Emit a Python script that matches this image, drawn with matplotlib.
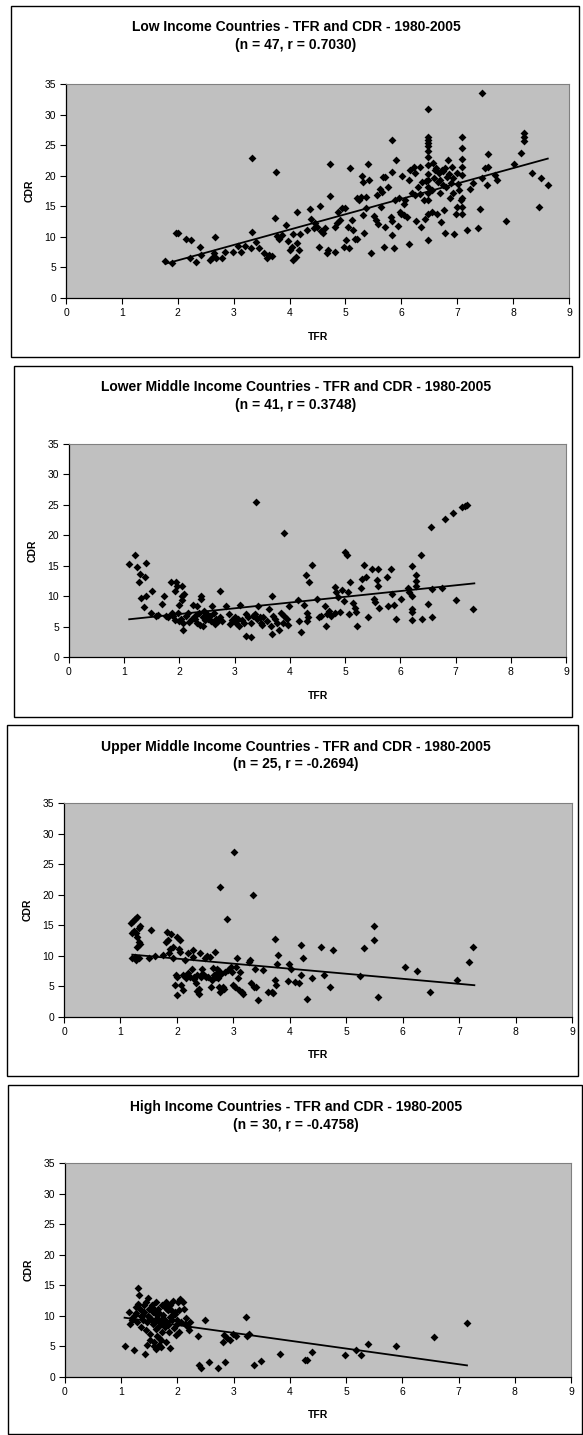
import matplotlib.pyplot as plt
from matplotlib.patches import Rectangle

plt.rcParams['font.family'] = ['Liberation Sans', 'DejaVu Sans']

W, H = 583, 1435

# ---- Low income ----
low_tfr = [1.78, 1.89, 1.96, 2.01, 2.14, 2.23, 2.21, 2.32, 2.39, 2.41, 2.66, 2.58, 2.63, 2.65, 2.68,
           2.80, 2.84, 2.98, 3.08, 3.13, 3.21, 3.31, 3.32, 3.32, 3.40, 3.46, 3.54, 3.60, 3.64, 3.68,
           3.75, 3.74, 3.77, 3.81, 3.87, 3.94, 3.97, 4.01, 4.04, 4.07, 4.06, 4.11, 4.14, 4.13, 4.17,
           4.19, 4.32, 4.36, 4.39, 4.43, 4.46, 4.49, 4.52, 4.54, 4.56, 4.60, 4.64, 4.67, 4.69, 4.72,
           4.72, 4.81, 4.81, 4.84, 4.87, 4.91, 4.94, 4.97, 4.99, 5.01, 5.04, 5.09, 5.07, 5.11, 5.14,
           5.17, 5.21, 5.21, 5.24, 5.27, 5.29, 5.31, 5.31, 5.34, 5.37, 5.37, 5.41, 5.42, 5.46, 5.51,
           5.54, 5.56, 5.59, 5.62, 5.64, 5.66, 5.67, 5.71, 5.69, 5.71, 5.77, 5.81, 5.83, 5.84, 5.84,
           5.84, 5.87, 5.89, 5.91, 5.94, 5.97, 5.99, 6.02, 6.04, 6.07, 6.11, 6.14, 6.14, 6.16, 6.19,
           6.22, 6.24, 6.26, 6.30, 6.34, 6.35, 6.37, 6.41, 6.43,
           6.48, 6.48, 6.48, 6.48, 6.48, 6.48, 6.48, 6.48, 6.48, 6.48, 6.48, 6.48, 6.48, 6.48, 6.48,
           6.54, 6.55, 6.57, 6.62, 6.64, 6.67, 6.69, 6.70, 6.71, 6.74, 6.75, 6.77, 6.78, 6.80, 6.84,
           6.87, 6.89, 6.90, 6.92, 6.95, 6.97, 6.99, 7.00, 7.04, 7.06,
           7.09, 7.09, 7.09, 7.09, 7.09, 7.09, 7.09, 7.09,
           7.17, 7.22, 7.28, 7.37, 7.40, 7.44, 7.44, 7.50, 7.54, 7.55, 7.55, 7.67, 7.71, 7.87, 8.02,
           8.15, 8.19, 8.19, 8.19, 8.34, 8.47, 8.50, 8.62,
           6.25, 6.45, 6.60, 6.66, 6.72, 6.82, 6.86, 6.93, 7.02, 6.05, 5.95, 6.33, 6.58, 6.79]
low_cdr = [6.0, 5.7, 10.7, 10.6, 9.7, 9.5, 6.5, 5.9, 8.4, 7.0, 10.0, 6.2, 6.7, 7.3, 6.6,
           6.6, 7.5, 7.5, 8.5, 7.5, 8.5, 8.1, 22.9, 10.8, 9.1, 8.1, 7.3, 6.5, 7.0, 6.8,
           20.6, 13.1, 10.1, 9.6, 10.3, 11.9, 9.3, 7.9, 8.4, 10.5, 6.2, 6.7, 9.0, 14.0, 7.8,
           10.5, 11.1, 14.5, 13.0, 11.4, 12.2, 11.6, 8.4, 15.1, 10.9, 10.7, 11.4, 7.3, 7.9, 16.7,
           21.9, 7.5, 11.6, 12.2, 14.1, 12.7, 14.7, 8.4, 14.7, 9.5, 11.6, 21.3, 8.1, 12.7, 11.1,
           9.6, 9.6, 16.3, 16.0, 16.5, 20.0, 19.0, 13.6, 10.6, 16.6, 14.7, 21.9, 19.3, 7.4, 13.4,
           12.7, 16.8, 12.1, 17.8, 14.9, 17.3, 19.8, 19.8, 8.4, 11.6, 18.2, 13.3, 25.9, 20.6, 10.3,
           12.6, 8.1, 16.0, 22.6, 11.8, 14.1, 13.8, 20.0, 13.6, 16.0, 13.3, 8.9, 19.3, 20.9, 17.1,
           21.5, 20.4, 12.6, 18.2, 21.5, 11.6, 19.0, 16.0, 13.0,
           30.9, 26.4, 25.9, 25.3, 24.8, 24.0, 23.0, 21.7, 20.2, 19.3, 18.2, 17.1, 16.0, 13.8, 9.5,
           14.1, 17.7, 22.0, 21.2, 13.8, 20.4, 19.3, 17.1, 12.5, 20.7, 18.5, 14.4, 10.6, 18.2, 22.6,
           16.4, 18.8, 21.5, 17.1, 10.4, 13.8, 14.9, 20.4, 17.7, 16.0,
           26.4, 24.5, 22.7, 21.5, 20.1, 16.3, 14.9, 13.8,
           11.1, 17.9, 18.8, 11.4, 14.5, 19.6, 33.5, 21.2, 18.5, 23.6, 21.5, 20.1, 19.3, 12.6, 21.9,
           23.7, 27.0, 26.4, 25.6, 20.4, 14.9, 19.6, 18.5,
           16.9, 19.2, 20.9, 19.0, 21.0, 19.8, 20.3, 19.6, 18.7, 15.4, 16.4, 17.0, 19.7, 21.3]
low_trend_x = [1.78, 8.62]
low_trend_y = [5.6, 22.8]

# ---- Lower middle income ----
lmid_tfr = [1.09, 1.19, 1.23, 1.26, 1.29, 1.30, 1.37, 1.39, 1.39, 1.35, 1.48, 1.51, 1.57, 1.68, 1.72,
            1.75, 1.84, 1.86, 1.88, 1.92, 1.93, 1.92, 1.95, 1.97, 1.99, 2.02, 2.04, 2.04, 2.05, 2.07,
            2.07, 2.09, 2.12, 2.15, 2.22, 2.25, 2.29, 2.31, 2.32, 2.36, 2.38, 2.39, 2.39, 2.42, 2.42,
            2.44, 2.49, 2.52, 2.57, 2.59, 2.62, 2.64, 2.66, 2.69, 2.73, 2.74, 2.77, 2.85, 2.89, 2.91,
            2.96, 3.03, 3.06, 3.08, 3.10, 3.16, 3.20, 3.21, 3.25, 3.29, 3.30, 3.33, 3.39, 3.37, 3.40,
            3.43, 3.47, 3.50, 3.52, 3.63, 3.65, 3.67, 3.68, 3.70, 3.73, 3.76, 3.81, 3.83, 3.87, 3.90,
            3.90, 3.94, 3.97, 3.99, 4.14, 4.17, 4.21, 4.26, 4.29, 4.31, 4.31, 4.33, 4.35, 4.40, 4.49,
            4.53, 4.56, 4.63, 4.65, 4.68, 4.71, 4.74, 4.81, 4.81, 4.84, 4.88, 4.91, 4.94, 4.98, 5.00,
            5.03, 5.05, 5.07, 5.09, 5.14, 5.18, 5.20, 5.22, 5.28, 5.30, 5.34, 5.38, 5.42, 5.48, 5.52,
            5.54, 5.58, 5.60, 5.60, 5.62, 5.75, 5.77, 5.83, 5.85, 5.89, 5.92, 6.01, 6.13, 6.16, 6.21,
            6.22, 6.21, 6.22, 6.21, 6.28, 6.28, 6.28, 6.38, 6.39, 6.51, 6.55, 6.58, 6.58, 6.80, 6.75,
            6.96, 7.00, 7.11, 7.17, 7.20, 7.32,
            1.80, 2.18, 2.55, 2.70, 3.00, 3.13, 3.45, 3.58, 1.62, 2.00, 2.28, 2.47]
lmid_cdr = [15.3, 16.7, 14.8, 12.4, 13.6, 9.7, 13.1, 15.5, 10.0, 8.2, 7.2, 10.8, 6.8, 8.7, 10.1,
            6.8, 12.3, 7.2, 6.7, 6.1, 12.3, 10.8, 11.6, 7.3, 8.5, 6.2, 11.6, 10.0, 9.3, 4.5,
            5.6, 10.3, 6.7, 7.2, 6.2, 8.6, 6.7, 5.6, 8.3, 7.2, 5.3, 10.1, 9.6, 5.1, 6.5,
            7.5, 7.0, 6.2, 5.9, 8.3, 7.3, 5.4, 6.2, 5.9, 10.9, 6.5, 5.9, 8.3, 7.0, 5.4,
            6.0, 5.6, 6.2, 5.1, 8.6, 5.6, 7.0, 3.5, 6.5, 3.3, 5.6, 6.7, 25.4, 7.0, 6.2,
            8.3, 5.6, 5.2, 6.5, 7.9, 5.1, 3.7, 10.1, 6.7, 6.2, 5.6, 4.5, 7.3, 5.6, 20.3,
            6.8, 6.2, 5.2, 8.4, 9.3, 5.9, 4.1, 8.5, 13.4, 7.3, 5.9, 6.5, 12.3, 15.1, 9.5,
            6.5, 6.7, 8.3, 5.1, 7.0, 7.5, 6.7, 7.2, 11.5, 10.6, 9.9, 7.4, 11.0, 9.2, 17.2,
            16.8, 10.7, 7.0, 12.3, 8.9, 8.1, 7.4, 5.1, 11.4, 12.8, 15.1, 13.1, 6.5, 14.4, 9.6,
            9.0, 12.7, 11.7, 14.4, 8.1, 13.2, 8.3, 14.4, 10.3, 8.5, 6.2, 9.5, 11.4, 10.6, 14.9,
            10.0, 7.9, 7.4, 6.0, 13.5, 12.5, 11.7, 16.7, 6.3, 8.7, 21.4, 11.2, 6.5, 22.6, 11.4,
            23.7, 9.3, 24.6, 24.8, 24.9, 7.9,
            6.5, 5.8, 6.8, 6.0, 6.6, 6.1, 6.6, 5.9, 6.9, 5.9, 6.3, 6.0]
lmid_trend_x = [1.09, 7.34]
lmid_trend_y = [6.2, 12.1]

# ---- Upper middle income ----
umid_tfr = [1.19, 1.23, 1.26, 1.29, 1.21, 1.24, 1.27, 1.30, 1.32, 1.35, 1.21, 1.25, 1.28, 1.32, 1.30,
            1.34, 1.32, 1.50, 1.55, 1.62, 1.75, 1.80, 1.82, 1.84, 1.86, 1.90, 1.88, 1.93, 1.93, 1.96,
            1.98, 2.00, 2.00, 2.01, 2.03, 2.06, 2.06, 2.08, 2.10, 2.11, 2.15, 2.17, 2.19, 2.23, 2.26,
            2.28, 2.29, 2.31, 2.33, 2.36, 2.39, 2.40, 2.41, 2.42, 2.44, 2.48, 2.50, 2.53, 2.56, 2.59,
            2.61, 2.62, 2.65, 2.67, 2.69, 2.71, 2.72, 2.74, 2.76, 2.77, 2.79, 2.81, 2.83, 2.89, 2.90,
            2.95, 2.98, 3.00, 3.02, 3.03, 3.05, 3.07, 3.10, 3.12, 3.15, 3.18, 3.27, 3.30, 3.32, 3.35,
            3.36, 3.38, 3.41, 3.44, 3.53, 3.61, 3.68, 3.71, 3.73, 3.74, 3.75, 3.77, 3.79, 3.96, 3.99,
            4.03, 4.10, 4.19, 4.17, 4.20, 4.24, 4.30, 4.40, 4.55, 4.61, 4.72, 4.76, 5.24, 5.31, 5.49,
            5.49, 5.57, 6.04, 6.25, 6.49, 6.96, 7.18, 7.24,
            2.20, 2.35, 2.52, 2.64, 2.75, 2.86, 3.08, 2.30, 2.45, 2.70]
umid_cdr = [15.4, 15.7, 16.1, 16.3, 13.7, 14.1, 13.7, 13.1, 14.5, 14.9, 9.7, 9.8, 9.4, 9.6, 11.5,
            11.9, 12.3, 9.7, 14.2, 10.0, 10.1, 12.3, 13.9, 12.6, 10.4, 13.6, 11.2, 11.5, 9.6, 5.2,
            6.8, 3.6, 6.6, 13.1, 11.2, 12.6, 10.6, 5.2, 4.4, 6.8, 9.3, 6.3, 10.4, 6.6, 7.9,
            10.9, 9.8, 6.6, 5.5, 4.3, 4.5, 3.8, 10.4, 6.6, 7.9, 6.8, 9.6, 9.9, 6.6, 9.8,
            4.9, 6.0, 6.8, 10.7, 7.1, 7.9, 6.3, 4.9, 4.1, 21.3, 7.1, 4.9, 4.6, 16.0, 7.7,
            8.2, 7.4, 5.3, 27.0, 4.9, 8.2, 9.7, 4.4, 7.4, 4.1, 3.8, 9.0, 9.3, 5.5, 20.0,
            4.9, 7.9, 4.9, 2.7, 7.7, 4.1, 4.1, 3.9, 12.7, 6.0, 5.2, 8.7, 10.1, 5.9, 8.6,
            7.8, 5.7, 11.8, 5.6, 6.8, 9.7, 2.9, 6.3, 11.5, 6.8, 4.9, 11.0, 6.7, 11.3, 14.9,
            12.6, 3.3, 8.2, 7.5, 4.1, 6.0, 9.0, 11.5,
            7.2, 6.9, 6.6, 8.0, 7.5, 7.3, 6.4, 6.2, 7.0, 6.5]
umid_trend_x = [1.21, 7.27]
umid_trend_y = [10.2, 5.2]

# ---- High income ----
high_tfr = [1.06, 1.13, 1.16, 1.19, 1.22, 1.24, 1.26, 1.28, 1.30, 1.32, 1.34, 1.36, 1.38, 1.39, 1.41,
            1.42, 1.44, 1.46, 1.46, 1.48, 1.49, 1.50, 1.52, 1.54, 1.56, 1.57, 1.59, 1.61, 1.61, 1.62,
            1.63, 1.65, 1.67, 1.69, 1.70, 1.72, 1.73, 1.75, 1.77, 1.79, 1.80, 1.82, 1.83, 1.85, 1.87,
            1.87, 1.90, 1.92, 1.94, 1.95, 1.97, 1.99, 2.01, 2.02, 2.03, 2.05, 2.07, 2.10, 2.12, 2.14,
            2.16, 2.18, 2.20, 2.22,
            1.20, 1.27, 1.35, 1.40, 1.47, 1.53, 1.58, 1.64, 1.68, 1.71, 1.76, 1.81, 1.86, 1.91, 1.96,
            1.30, 1.44, 1.55, 1.60, 1.66, 1.74, 1.78, 1.84, 1.89, 2.00, 1.52, 1.63, 1.71, 1.58, 1.68,
            2.37, 2.38, 2.42, 2.49, 2.56, 2.73, 2.81, 2.82, 2.85, 2.89, 2.94, 2.98, 3.04, 3.22, 3.24,
            3.27, 3.37, 3.49, 3.83, 4.26, 4.30, 4.39, 4.98, 5.18, 5.27, 5.39, 5.88, 6.57, 7.15]
high_cdr = [5.1, 10.7, 8.7, 9.6, 4.4, 10.1, 11.5, 9.0, 14.6, 13.4, 11.2, 8.2, 9.3, 10.1, 11.8,
            3.8, 7.7, 5.3, 9.0, 13.0, 11.2, 9.8, 7.1, 11.8, 8.7, 10.7, 5.7, 12.3, 7.9, 4.6,
            10.1, 11.2, 6.3, 9.0, 4.9, 11.8, 7.4, 10.1, 8.2, 12.3, 5.7, 9.0, 10.9, 7.4, 4.8,
            11.8, 9.3, 12.4, 8.0, 10.6, 6.8, 8.7, 12.3, 10.9, 7.4, 12.7, 9.0, 12.2, 11.2, 8.7,
            9.7, 8.2, 7.7, 9.0,
            9.4, 10.4, 9.9, 10.6, 10.0, 9.5, 11.0, 9.6, 10.4, 8.6, 9.4, 11.1, 9.8, 9.9, 10.3,
            11.9, 12.2, 11.4, 9.0, 8.1, 9.7, 11.4, 8.5, 11.0, 9.4, 6.1, 6.7, 6.0, 5.0, 5.3,
            6.7, 1.9, 1.4, 9.4, 2.4, 1.5, 5.7, 6.8, 2.4, 6.3, 6.0, 7.1, 6.7, 9.8, 6.7,
            7.1, 1.9, 2.6, 3.7, 2.7, 2.7, 4.1, 3.6, 4.4, 3.6, 5.4, 5.0, 6.6, 8.9]
high_trend_x = [1.06, 7.15]
high_trend_y = [9.7, 1.9]

panels = [
    ("Low Income Countries - TFR and CDR - 1980-2005", "(n = 47, r = 0.7030)",
     low_tfr, low_cdr, low_trend_x, low_trend_y,
     (66, 84, 569, 298), (11, 6, 579, 357), 27, 45, 337),
    ("Lower Middle Income Countries - TFR and CDR - 1980-2005", "(n = 41, r = 0.3748)",
     lmid_tfr, lmid_cdr, lmid_trend_x, lmid_trend_y,
     (69, 444, 566, 657), (14, 366, 572, 717), 387, 405, 696),
    ("Upper Middle Income Countries - TFR and CDR - 1980-2005", "(n = 25, r = -0.2694)",
     umid_tfr, umid_cdr, umid_trend_x, umid_trend_y,
     (64, 803, 572, 1017), (7, 725, 578, 1076), 747, 764, 1055),
    ("High Income Countries - TFR and CDR - 1980-2005", "(n = 30, r = -0.4758)",
     high_tfr, high_cdr, high_trend_x, high_trend_y,
     (65, 1163, 571, 1377), (8, 1085, 582, 1434), 1107, 1125, 1415),
]

fig = plt.figure(figsize=(W / 100, H / 100), dpi=100)

for (t1, t2, xs, ys, tx, ty, ax_px, box_px, ty1, ty2, xlab_y) in panels:
    x0, y0, x1, y1 = ax_px
    ax = fig.add_axes([x0 / W, 1 - y1 / H, (x1 - x0) / W, (y1 - y0) / H])
    ax.set_facecolor('#c0c0c0')
    ax.scatter(xs, ys, marker='D', s=16, color='black', linewidths=0, zorder=3)
    ax.plot(tx, ty, color='black', lw=1.3, zorder=4)
    ax.set_xlim(0, 9)
    ax.set_ylim(0, 35)
    ax.set_xticks(range(0, 10))
    ax.set_yticks(range(0, 36, 5))
    ax.tick_params(direction='out', length=4, width=0.8, labelsize=7.5, pad=3)
    for s in ('top', 'right'):
        ax.spines[s].set_color('#808080')
    for s in ('left', 'bottom'):
        ax.spines[s].set_linewidth(0.9)
    ax.set_ylabel('CDR', fontsize=7.5, fontweight='bold', labelpad=7)
    fig.text((x0 + x1) / 2 / W, 1 - xlab_y / H, 'TFR', ha='center', va='center',
             fontsize=7.5, fontweight='bold')
    fig.text(296 / W, 1 - ty1 / H, t1, ha='center', va='center', fontsize=10, fontweight='bold')
    fig.text(296 / W, 1 - ty2 / H, t2, ha='center', va='center', fontsize=10, fontweight='bold')
    bx0, by0, bx1, by1 = box_px
    fig.add_artist(Rectangle((bx0 / W, 1 - by1 / H), (bx1 - bx0) / W, (by1 - by0) / H,
                             transform=fig.transFigure, fill=False, edgecolor='black', lw=1))

fig.savefig('out.png', dpi=100)
